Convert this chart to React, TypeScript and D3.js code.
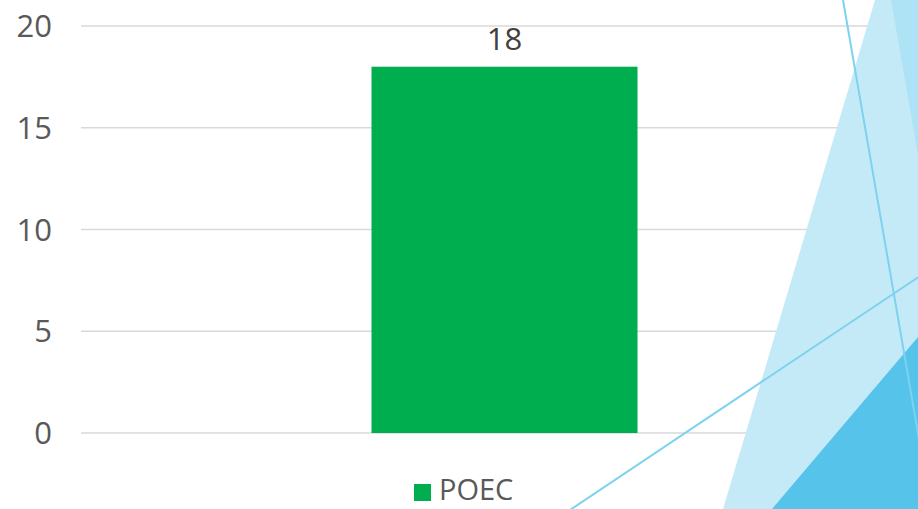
import React from 'react';
import * as d3 from 'd3';

const categories = ['POEC'];
const values = [18];
const seriesName = 'POEC';
const yTicks = [0, 5, 10, 15, 20];

const W = 918;
const H = 509;
const font = '"Open Sans", "Noto Sans", sans-serif';

export default function App() {
  const x = d3.scaleBand<string>().domain(categories).range([81, 928]).padding(0.522);
  const y = d3.scaleLinear().domain([0, 20]).range([433, 26]);

  return (
    <svg width={W} height={H} style={{ position: 'absolute', left: 0, top: 0, background: '#fff' }}>
      {/* gridlines */}
      {yTicks.map(t => (
        <line key={'g' + t} x1={81} x2={W} y1={y(t)} y2={y(t)} stroke="#d9d9d9" strokeWidth={1.5} />
      ))}
      {/* tick labels */}
      {yTicks.map(t => (
        <text key={'t' + t} x={52} y={y(t) + 11} textAnchor="end" fontFamily={font} fontSize={31} fill="#595959">
          {t}
        </text>
      ))}
      {/* bars */}
      {categories.map((c, i) => (
        <g key={c}>
          <rect x={x(c)} y={y(values[i])} width={x.bandwidth()} height={y(0) - y(values[i])} fill="#00ae4f" />
          <text x={(x(c) ?? 0) + x.bandwidth() / 2} y={y(values[i]) - 17} textAnchor="middle" fontFamily={font} fontSize={31} fill="#404040">
            {values[i]}
          </text>
        </g>
      ))}
      {/* decorative theme shapes */}
      <polygon points="875,0 918,0 918,509 723,509" fill="#c5eaf7" />
      <polygon points="891,0 918,0 918,155" fill="#aee3f5" />
      <polygon points="918,337 918,509 772,509" fill="#55c3ea" />
      <line x1={843} y1={0} x2={920} y2={445} stroke="#7dd2ef" strokeWidth={2} />
      <line x1={570} y1={510} x2={920} y2={276} stroke="#7dd2ef" strokeWidth={2} />
      {/* legend */}
      <rect x={414} y={484} width={17} height={17} fill="#00ae4f" />
      <text x={439} y={500} fontFamily={font} fontSize={29} fill="#595959">{seriesName}</text>
    </svg>
  );
}
